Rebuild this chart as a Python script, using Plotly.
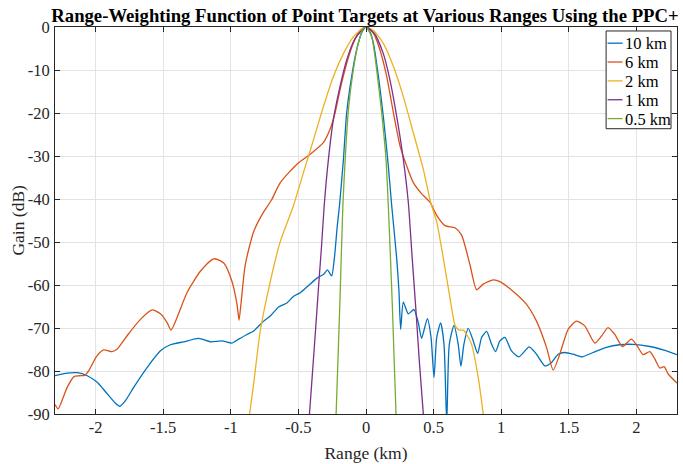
import plotly.graph_objects as go

# ---------------- data ----------------
x_10km = [-2.30, -2.21, -2.135, -2.062, -1.988, -1.914, -1.853, -1.821, -1.779, -1.718,
          -1.619, -1.52, -1.447, -1.348, -1.237, -1.151, -1.064, -0.991, -0.942, -0.88,
          -0.831, -0.757, -0.708, -0.646, -0.585, -0.535, -0.486, -0.424, -0.363, -0.313,
          -0.285, -0.254, -0.234, -0.212, -0.196, -0.167, -0.143, -0.106, -0.07, -0.03,
          0.0, 0.03, 0.055, 0.092, 0.128, 0.165, 0.19, 0.227, 0.244, 0.256,
          0.276, 0.313, 0.355, 0.387, 0.411, 0.454, 0.481, 0.503, 0.523, 0.552,
          0.577, 0.597, 0.616, 0.651, 0.682, 0.702, 0.724, 0.756, 0.793, 0.826,
          0.855, 0.892, 0.929, 0.958, 0.99, 1.027, 1.076, 1.131, 1.207, 1.261,
          1.323, 1.372, 1.421, 1.47, 1.532, 1.598, 1.679, 1.778, 1.876, 1.975,
          2.099, 2.197, 2.30]
y_10km = [-81.1, -80.5, -80.4, -81.1, -82.6, -85.3, -87.5, -88.2, -86.9, -83.8,
          -79.2, -75.3, -73.9, -73.2, -72.4, -73.2, -73.0, -73.5, -72.6, -71.5,
          -70.7, -68.4, -67.2, -65.1, -64.2, -62.6, -61.8, -60.1, -58.4, -57.5,
          -56.5, -57.9, -53.8, -46.1, -41.5, -30.8, -20.0, -11.5, -5.4, -1.2,
          0.0, -1.2, -3.8, -11.5, -20.8, -32.3, -41.5, -53.8, -61.5, -70.3,
          -64.0, -66.7, -65.7, -68.8, -72.4, -67.8, -72.2, -81.5, -72.2, -68.8,
          -73.8, -92.0, -73.8, -69.4, -73.8, -78.9, -73.8, -70.1, -73.0, -75.9,
          -72.2, -70.8, -73.8, -75.5, -73.0, -72.2, -75.3, -76.7, -74.4, -76.1,
          -78.8, -78.0, -76.1, -75.7, -76.1, -76.7, -75.7, -74.5, -73.9, -73.8,
          -74.3, -75.1, -76.2]

x_6km = [-2.30, -2.277, -2.21, -2.16, -2.12, -2.08, -2.05, -1.99, -1.94, -1.878,
         -1.84, -1.767, -1.668, -1.582, -1.52, -1.47, -1.442, -1.398, -1.324, -1.225,
         -1.127, -1.052, -0.991, -0.954, -0.939, -0.925, -0.893, -0.831, -0.757, -0.70,
         -0.634, -0.511, -0.413, -0.315, -0.266, -0.229, -0.192, -0.143, -0.094, -0.044,
         0.0, 0.055, 0.104, 0.153, 0.203, 0.252, 0.301, 0.35, 0.412, 0.474,
         0.523, 0.584, 0.658, 0.707, 0.769, 0.818, 0.867, 0.941, 0.99, 1.089,
         1.187, 1.261, 1.335, 1.384, 1.433, 1.495, 1.557, 1.618, 1.692, 1.741,
         1.79, 1.84, 1.897, 1.963, 2.012, 2.049, 2.099, 2.136, 2.173, 2.205,
         2.235, 2.30]
y_6km = [-87.8, -88.8, -83.8, -81.3, -81.1, -81.0, -79.9, -76.5, -75.1, -75.5,
         -74.9, -71.8, -68.0, -65.8, -66.7, -68.8, -70.5, -67.6, -61.8, -56.8,
         -53.9, -54.9, -59.2, -64.5, -68.2, -64.5, -55.3, -47.6, -43.0, -40.3,
         -36.2, -31.9, -29.6, -26.9, -23.8, -20.0, -14.6, -8.5, -3.8, -0.8,
         0.0, -1.5, -5.4, -11.5, -20.0, -27.7, -32.3, -36.2, -38.8, -40.8,
         -43.8, -46.2, -46.7, -48.4, -55.3, -61.1, -59.8, -58.8, -59.2, -61.5,
         -64.5, -68.4, -74.5, -79.8, -76.1, -70.3, -68.4, -69.5, -73.5, -71.9,
         -69.9, -71.5, -74.3, -72.6, -74.5, -76.2, -75.5, -77.2, -79.3, -79.0,
         -80.7, -82.8]

x_2km = [-0.861, -0.831, -0.782, -0.708, -0.634, -0.536, -0.462, -0.388, -0.315, -0.241,
         -0.167, -0.094, -0.02, 0.0, 0.055, 0.128, 0.203, 0.276, 0.35, 0.424,
         0.478, 0.523, 0.572, 0.621, 0.66, 0.69, 0.72, 0.75, 0.781, 0.83,
         0.867]
y_2km = [-90.0, -83.0, -70.7, -59.2, -49.9, -41.5, -33.8, -26.2, -18.5, -11.5,
         -6.2, -2.3, -0.2, 0.0, -0.8, -3.8, -9.2, -16.2, -24.6, -33.1,
         -40.8, -45.3, -53.8, -63.0, -69.5, -70.5, -70.5, -71.8, -73.8, -81.5,
         -90.0]

x_1km = [-0.418, -0.395, -0.372, -0.35, -0.33, -0.309, -0.278, -0.241, -0.192, -0.143,
         -0.081, 0.0, 0.062, 0.128, 0.177, 0.227, 0.276, 0.313, 0.34, 0.368,
         0.395, 0.424]
y_1km = [-90.0, -80.0, -70.0, -60.0, -51.5, -41.5, -30.8, -21.5, -13.8, -7.7,
         -2.7, 0.0, -1.5, -6.2, -12.3, -20.8, -30.8, -40.8, -53.0, -65.3,
         -78.0, -90.0]

x_05km = [-0.221, -0.194, -0.171, -0.154, -0.13, -0.094, -0.057, -0.02, 0.0, 0.042,
          0.079, 0.116, 0.148, 0.165, 0.195, 0.222]
y_05km = [-90.0, -65.0, -41.5, -30.8, -19.2, -10.0, -3.8, -0.4, 0.0, -2.3,
          -10.0, -20.0, -30.8, -41.5, -65.0, -90.0]

series_names = ["10 km", "6 km", "2 km", "1 km", "0.5 km"]
series_x = [x_10km, x_6km, x_2km, x_1km, x_05km]
series_y = [y_10km, y_6km, y_2km, y_1km, y_05km]
series_colors = ["#0072BD", "#D95319", "#EDB120", "#7E2F8E", "#77AC30"]

x_tickvals = [-2, -1.5, -1, -0.5, 0, 0.5, 1, 1.5, 2]
x_ticktext = ["-2", "-1.5", "-1", "-0.5", "0", "0.5", "1", "1.5", "2"]
y_tickvals = [0, -10, -20, -30, -40, -50, -60, -70, -80, -90]
y_ticktext = ["0", "-10", "-20", "-30", "-40", "-50", "-60", "-70", "-80", "-90"]

title_text = "Range-Weighting Function of Point Targets at Various Ranges Using the PPC+"
x_title = "Range (km)"
y_title = "Gain (dB)"

# ---------------- layout constants ----------------
W, H = 683, 464
L, R, T, B = 55, 5, 27, 47
FONT = "Liberation Serif, Times New Roman, serif"
AX = "#262626"

fig = go.Figure()
for nm, xs, ys, c in zip(series_names, series_x, series_y, series_colors):
    fig.add_trace(go.Scatter(x=xs, y=ys, mode="lines", name=nm,
                             line=dict(color=c, width=1.3, shape="spline", smoothing=0.6),
                             showlegend=False))

# manual MATLAB-style legend (box, short line samples, labels)
pw, ph = W - L - R, H - T - B
def px2x(p):
    return (p - L) / pw
def py2y(p):
    return (H - B - p) / ph

shapes = [dict(type="rect", xref="paper", yref="paper",
               x0=px2x(607), x1=px2x(672), y0=py2y(129.5), y1=py2y(31),
               line=dict(color="#262626", width=1), fillcolor="white", layer="above")]
annotations = []
for i, (nm, c) in enumerate(zip(series_names, series_colors)):
    yc = 43.3 + i * 19.0
    shapes.append(dict(type="line", xref="paper", yref="paper",
                       x0=px2x(608.5), x1=px2x(623.5), y0=py2y(yc), y1=py2y(yc),
                       line=dict(color=c, width=1.3), layer="above"))
    annotations.append(dict(xref="paper", yref="paper", x=px2x(624), y=py2y(yc + 0.5),
                            xanchor="left", yanchor="middle", text=nm, showarrow=False,
                            font=dict(family=FONT, size=16.5, color="black")))

# y-axis title placed like MATLAB's ylabel
annotations.append(dict(xref="paper", yref="paper", x=px2x(17), y=0.5,
                        xanchor="center", yanchor="middle", textangle=-90,
                        text=y_title, showarrow=False,
                        font=dict(family=FONT, size=17.5, color=AX)))

fig.update_layout(
    width=W, height=H,
    margin=dict(l=L, r=R, t=T, b=B),
    paper_bgcolor="white", plot_bgcolor="white",
    font=dict(family=FONT, size=16.5, color=AX),
    title=dict(text="<b>" + title_text + "</b>", x=365 / W,
               xanchor="center", y=1 - 15 / H, yanchor="middle", yref="container",
               font=dict(family=FONT, size=18.7, color="black")),
    shapes=shapes, annotations=annotations,
    showlegend=False,
)
fig.update_xaxes(range=[-2.3, 2.3], tickvals=x_tickvals, ticktext=x_ticktext,
                 ticks="inside", ticklen=5, tickcolor=AX, showline=True, linecolor=AX,
                 linewidth=1, mirror="ticks", showgrid=True, gridcolor="#e3e3e3",
                 gridwidth=1, zeroline=False, ticklabelstandoff=-2,
                 tickfont=dict(family=FONT, size=16.5, color=AX),
                 title=dict(text=x_title, standoff=10, font=dict(family=FONT, size=17.5, color=AX)))
fig.update_yaxes(range=[-90, 0], tickvals=y_tickvals, ticktext=y_ticktext,
                 ticks="inside", ticklen=5, tickcolor=AX, showline=True, linecolor=AX,
                 linewidth=1, mirror="ticks", showgrid=True, gridcolor="#e3e3e3",
                 gridwidth=1, zeroline=False, ticklabelstandoff=1,
                 tickfont=dict(family=FONT, size=16.5, color=AX))

fig.write_html("out.html")
